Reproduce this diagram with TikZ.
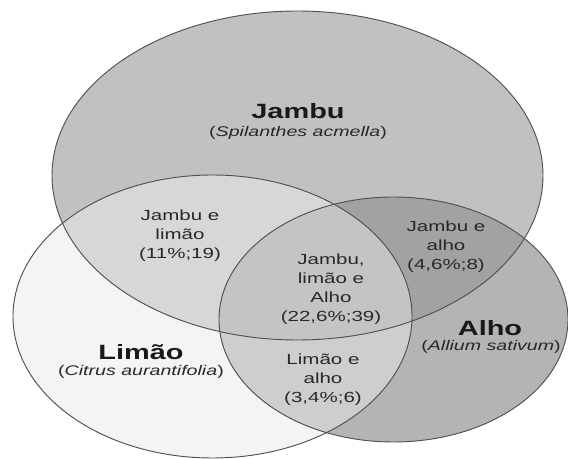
\documentclass[tikz,border=0pt]{standalone}
\usepackage{fontspec}
\setmainfont{Liberation Sans}

\definecolor{jambuC}{RGB}{193,193,193}
\definecolor{limaoC}{RGB}{244,244,244}
\definecolor{alhoC}{RGB}{180,180,180}
\definecolor{jlC}{RGB}{215,215,215}
\definecolor{jaC}{RGB}{162,162,162}
\definecolor{laC}{RGB}{206,206,206}
\definecolor{jlaC}{RGB}{196,196,196}
\definecolor{lineC}{RGB}{80,80,80}
\definecolor{textC}{RGB}{40,40,40}

\newcommand{\elJambu}{(297.5,-175.5) ellipse [x radius=245.5, y radius=164.5]}
\newcommand{\elLimao}{(212.5,-316.5) ellipse [x radius=199.5, y radius=141.5]}
\newcommand{\elAlho}{(393.5,-319.5) ellipse [x radius=174.5, y radius=122.5]}

\tikzset{
  conj/.style={draw=lineC, line width=0.7pt},
  nome/.style={xscale=1.4, text=black!90, font=\bfseries\fontsize{15.5}{18}\selectfont},
  especie/.style={xscale=1.4, text=textC, font=\fontsize{10.5}{13}\selectfont},
  rotulo/.style={align=center, xscale=1.4, text=textC, font=\fontsize{11}{14.25}\selectfont}
}

\begin{document}
\begin{tikzpicture}[x=0.75pt,y=0.75pt]
\useasboundingbox (0,0) rectangle (568,-459);

% conjuntos
\fill[jambuC] \elJambu;
\fill[limaoC] \elLimao;
\fill[alhoC] \elAlho;

\begin{scope}
\clip \elLimao;
\fill[laC] \elAlho;
\end{scope}

\begin{scope}
\clip \elJambu;
\fill[jlC] \elLimao;
\fill[jaC] \elAlho;
\clip \elLimao;
\fill[jlaC] \elAlho;
\end{scope}

\draw[conj] \elJambu;
\draw[conj] \elLimao;
\draw[conj] \elAlho;

% nomes
\node[nome] (jambu) at (298,-111) {Jambu};
\node[especie] (jambusp) at (298,-133) {(\textit{Spilanthes acmella})};

\node[nome] (limao) at (141,-352) {Limão};
\node[especie] (limaosp) at (141,-372) {(\textit{Citrus aurantifolia})};

\node[nome] (alho) at (490,-328) {Alho};
\node[especie] (alhosp) at (491,-347) {(\textit{Allium sativum})};

% intersecoes
\node[rotulo] (jl) at (180,-236) {Jambu e\\limão\\(11\%;19)};
\node[rotulo] (ja) at (446,-247) {Jambu e\\alho\\(4,6\%;8)};
\node[rotulo] (jla) at (331,-289) {Jambu,\\limão e\\Alho\\(22,6\%;39)};
\node[rotulo] (la) at (323,-380) {Limão e\\alho\\(3,4\%;6)};
\end{tikzpicture}
\end{document}
